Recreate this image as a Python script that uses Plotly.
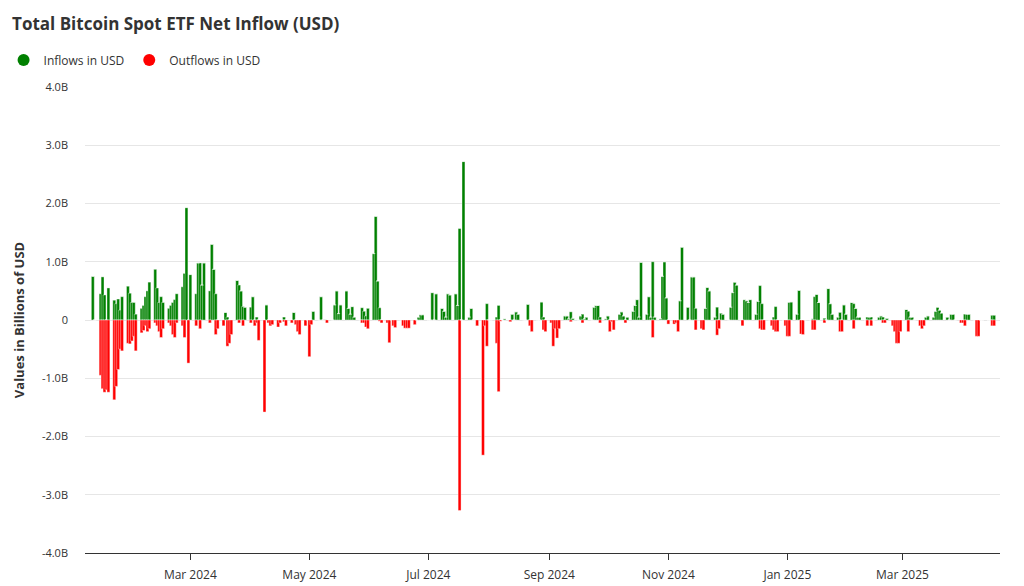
import pandas as pd
import plotly.graph_objects as go

# daily values in billions of USD, one entry per business day of each month
in_jan24 = [0.75,0.0,0.45,0.74,0.43,0.0,0.55,0.34,0.28,0.36,0.17,0.40,0.58,0.46,0.30]
out_jan24 = [0,0,-0.95,-1.18,-1.24,-1.2,-1.24,-1.37,-1.14,-0.85,-0.50,-0.53,-0.40,-0.41,-0.36]
in_feb24 = [0.30,0.10,0.20,0.25,0.40,0.50,0.65,0.87,0.55,0.30,0.40,0.30,0.20,0.25,0.30,0.35,0.45,0.57,0.80,1.93,0.0]
out_feb24 = [-0.28,-0.53,-0.22,-0.18,-0.10,-0.20,-0.15,-0.05,-0.10,-0.20,-0.30,-0.15,-0.05,-0.10,-0.25,-0.30,-0.05,-0.10,-0.30,0.0,-0.74]
in_mar24 = [0.78,0.45,0.98,0.98,0.60,0.98,0.50,1.30,0.87,0.45,0.0,0.0,0.13,0.05,0.0,0.0,0.68,0.60,0.50,0.23,0.22]
out_mar24 = [0,-0.10,0,-0.15,0,0,-0.05,0,0,-0.25,-0.15,-0.10,0,-0.45,-0.40,-0.25,0,-0.05,0,-0.10,0]
in_apr24 = [0.22,0.40,0.0,0.05,0.0,0.0,0.26,0.0,0.0,0.0,0.0,0.0,0.0,0.05,0.0,0.0,0.13,0.0,0.0,0.0,0.0,0.0]
out_apr24 = [-0.05,0,-0.10,-0.05,-0.35,-1.58,0,-0.05,-0.10,-0.08,-0.12,-0.05,0,-0.03,-0.10,-0.05,0,-0.08,-0.20,-0.25,-0.10,0]
in_may24 = [0,0,0.15,0,0.40,0,0.01,0,0,0.26,0.5,0.11,0.26,0.5,0.2,0.1,0.23,0.05,0,0.21,0.15,0.07,0.2]
out_may24 = [-0.63,-0.08,0,0,0,0,0,-0.05,0,0,0,0,0,0,0,0,0,0,0,-0.05,-0.05,-0.12,-0.15]
in_jun24 = [1.14,1.78,0.67,0.21,0,0,0,0,0,0,0,0,0,0,0,0,0,0.05,0.09,0.09]
out_jun24 = [0,0,0,-0.02,-0.05,-0.05,-0.39,0,-0.10,-0.13,0,-0.10,-0.14,-0.14,-0.14,-0.08,0,0,0,0]
in_jul24 = [0,0,0.47,0,0.45,0.20,0.15,0.05,0.45,0.43,0.45,0.25,1.57,0,2.72,0.05,0.20,0,0,0,0,0,0.28]
out_jul24 = [0,0,0,0,0,0,0,0,0,0,0,0,-3.27,0,0,0,0,0,0,-0.10,-2.32,-0.10,-0.45]
in_aug24 = [0,0,0.05,0.25,0,0,0.02,0,0.10,0,0.14,0.10,0,0,0.27,0,0,0,0,0.31,0.05,0]
out_aug24 = [0,0,-0.40,-1.23,-0.02,0,0,-0.03,0,0,0,0,0,0,0,-0.10,-0.20,0,0,0,-0.17,-0.20]
in_sep24 = [0,0,0,0,0,0.07,0.07,0.02,0.14,0.03,0,0.07,0.10,0.02,0.05,0,0.22,0.25,0.25,0.05,0.02]
out_sep24 = [-0.05,-0.45,-0.15,-0.31,-0.15,0,0,0,-0.03,0,0,0,-0.05,0,0,0,0,0,0,-0.05,0]
in_oct24 = [0.07,0,0,0,0.10,0.14,0.07,0,0.05,0.15,0.25,0.35,0.05,0.99,0.10,0.40,0.05,1.00,0.05,0.02,0.75,1.00,0.38]
out_oct24 = [0,-0.20,-0.03,-0.17,0,0,0,-0.05,0,0,0,0,0,0,0,0,0,-0.30,0,0,0,0,0]
in_nov24 = [0,0,0,0,0.33,1.25,0.22,0,0.74,0.74,0.20,0,0,0.20,0.56,0.50,0.05,0.22,0,0.12,0.10]
out_nov24 = [-0.07,-0.07,-0.05,-0.20,0,0,0,0,0,0,-0.17,-0.15,-0.17,0,0,0,0,-0.26,-0.15,0,0]
in_dec24 = [0,0.22,0.47,0.65,0.60,0,0.35,0.33,0.30,0.35,0.10,0.32,0.59,0.28,0,0,0,0.05,0.23,0,0,0]
out_dec24 = [0,0,0,0,0,-0.10,0,0,0,0,0,0,-0.15,-0.17,-0.17,0,-0.10,-0.17,-0.20,-0.20,0,-0.10]
in_jan25 = [0,0.30,0.31,0.10,0.51,0.0,0,0,0,0.02,0.40,0.44,0.30,0.03,0,0.54,0.28,0.10,0.05,0.13,0,0.26,0.10]
out_jan25 = [-0.28,-0.28,0,0,0,-0.24,-0.25,0,0,-0.17,-0.17,0,0,-0.05,0,0,0,0,0,-0.20,-0.20,0,0]
in_feb25 = [0.30,0.28,0.20,0.05,0.05,0,0.05,0.05,0.05,0,0.05,0.07,0.05,0,0.03,0,0,0,0,0]
out_feb25 = [0,-0.15,0,0,0,0,-0.10,0,-0.10,0,0,0,-0.05,-0.05,0,-0.10,-0.20,-0.40,-0.40,-0.20]
in_mar25 = [0.18,0.15,0.05,0.05,0,0,0,0,0.05,0.07,0.05,0.15,0.22,0.17,0.12,0.05,0,0.10,0.10,0,0]
out_mar25 = [0,-0.20,0,0,0,-0.10,-0.15,-0.10,0,0,0,0,0,0,0,0,0,0,0,0,-0.05]
in_apr25 = [0,0.10,0.10,0.10,0,0,0,0,0,0,0,0.08,0.08]
out_apr25 = [-0.05,-0.10,0,0,0,-0.28,-0.28,0,0,0,0,-0.10,-0.10]

inflows = (in_jan24 + in_feb24 + in_mar24 + in_apr24 + in_may24 + in_jun24 + in_jul24 + in_aug24
           + in_sep24 + in_oct24 + in_nov24 + in_dec24 + in_jan25 + in_feb25 + in_mar25 + in_apr25)
outflows = (out_jan24 + out_feb24 + out_mar24 + out_apr24 + out_may24 + out_jun24 + out_jul24 + out_aug24
            + out_sep24 + out_oct24 + out_nov24 + out_dec24 + out_jan25 + out_feb25 + out_mar25 + out_apr25)
dates = pd.bdate_range("2024-01-11", "2025-04-17")
assert len(dates) == len(inflows) == len(outflows)

ytick_vals = [4, 3, 2, 1, 0, -1, -2, -3, -4]
ytick_text = ["4.0B", "3.0B", "2.0B", "1.0B", "0", "-1.0B", "-2.0B", "-3.0B", "-4.0B"]

green, red = "#008000", "#ff0000"
bar_w = 1.5 * 86400000

fig = go.Figure()
fig.add_trace(go.Bar(x=dates, y=inflows, name="Inflows in USD", marker_color=green,
                     marker_line=dict(color="white", width=0.4), width=bar_w, showlegend=False))
fig.add_trace(go.Bar(x=dates, y=outflows, name="Outflows in USD", marker_color=red,
                     marker_line=dict(color="white", width=0.4), width=bar_w, showlegend=False))
# legend entries with round markers
for name, col in [("Inflows in USD", green), ("Outflows in USD", red)]:
    fig.add_trace(go.Scatter(x=[None], y=[None], mode="markers", name=name,
                             marker=dict(color=col, size=12, symbol="circle")))

# the page body adds an 8px offset, so the figure is 8px smaller each way
fig.update_layout(
    width=1016, height=578,
    barmode="relative",
    plot_bgcolor="white", paper_bgcolor="white",
    font=dict(family="Open Sans, sans-serif", color="#333", size=12),
    title=dict(text="<b>Total Bitcoin Spot ETF Net Inflow (USD)</b>", x=0.004, xanchor="left",
               y=0.972, yanchor="middle", font=dict(size=17, color="#333")),
    margin=dict(l=77, r=24, t=79, b=33, autoexpand=False),
    legend=dict(orientation="h", x=-0.089, y=1.058, xanchor="left", yanchor="middle",
                font=dict(size=12, color="#333"), itemwidth=30),
    showlegend=True,
)
fig.update_xaxes(
    type="date", range=["2024-01-07", "2025-04-20"],
    dtick="M2", tick0="2024-03-01", tickformat="%b %Y",
    showgrid=False, showline=True, linecolor="#333", ticks="outside", tickcolor="#333",
    ticklen=6, tickfont=dict(size=12, color="#333"), automargin=False, ticklabelstandoff=5,
)
fig.update_yaxes(
    range=[-4, 4], tickvals=ytick_vals, ticktext=ytick_text,
    showgrid=True, gridcolor="#e6e6e6", zeroline=False, automargin=False,
    tickfont=dict(size=11, color="#333"), ticklabelstandoff=16,
    title=dict(text="<b>Values in Billions of USD</b>", font=dict(size=13, color="#333"), standoff=14),
)

fig.write_html("out.html")
